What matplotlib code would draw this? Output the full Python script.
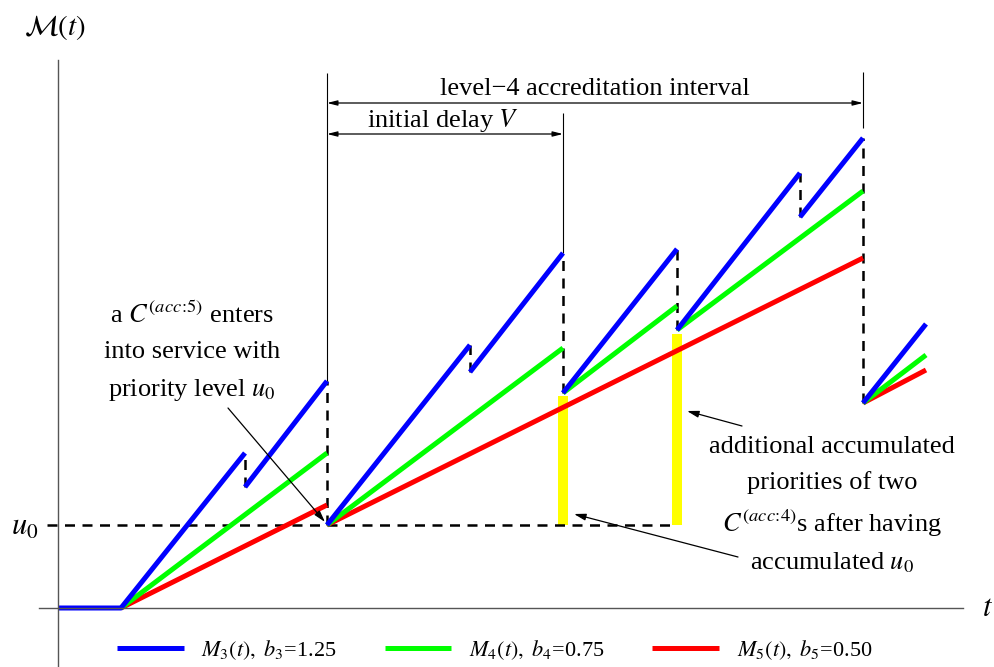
import numpy as np
import matplotlib
matplotlib.use('Agg')
import matplotlib.pyplot as plt
from matplotlib.lines import Line2D

plt.rcParams['font.family'] = ['Liberation Serif', 'DejaVu Serif']
plt.rcParams['mathtext.fontset'] = 'stix'

nan = np.nan
# ---- data (t, M) ----
U0 = 4.15
blue_t = [0, 3.15, 9.35, nan, 9.35, 13.45, nan, 13.45, 20.6, nan, 20.6, 25.25, nan,
          25.25, 30.95, nan, 30.95, 37.1, nan, 37.1, 40.25, nan, 40.25, 43.4]
blue_m = [0, 0, 7.75, nan, 6.05, 11.35, nan, 4.15, 13.15, nan, 11.8, 17.75, nan,
          10.75, 17.95, nan, 13.9, 21.75, nan, 19.55, 23.5, nan, 10.25, 14.2]
green_t = [3.15, 13.45, nan, 13.45, 25.25, nan, 25.25, 30.95, nan, 30.95, 40.25, nan, 40.25, 43.4]
green_m = [0, 7.75, nan, 4.15, 13.0, nan, 10.75, 15.1, nan, 13.9, 20.85, nan, 10.25, 12.65]
red_t = [3.15, 13.45, nan, 13.45, 40.25, nan, 40.25, 43.4]
red_m = [0, 5.15, nan, 4.15, 17.5, nan, 10.25, 11.9]

drop_t = [9.35, 13.45, 20.6, 25.25, 30.95, 37.1, 40.25]
drop_top = [7.75, 11.35, 13.15, 17.75, 17.95, 21.75, 23.5]
drop_bottom = [6.05, 4.15, 11.8, 10.75, 13.9, 19.55, 10.25]

guide_t = [13.45, 25.25, 40.25]
guide_top = [26.75, 24.75, 26.8]
guide_bottom = [11.35, 17.75, 24.0]

bar_t = [25.25, 30.95]
bar_top = [10.6, 13.7]

legend_labels = [r'$M_3(t),\ b_3$=1.25', r'$M_4(t),\ b_4$=0.75', r'$M_5(t),\ b_5$=0.50']
colors = ['#0000ff', '#00ff00', '#ff0000']

fig = plt.figure(figsize=(9.94, 6.67), dpi=100)
ax = fig.add_axes([0, 0, 1, 1])
ax.set_xlim(-2.9, 46.8)
ax.set_ylim(-2.95, 30.4)
ax.set_xticks([]); ax.set_yticks([])
for s in ['top', 'right']:
    ax.spines[s].set_visible(False)
ax.spines['left'].set_position(('data', 0))
ax.spines['bottom'].set_position(('data', 0))
ax.spines['left'].set_bounds(-2.95, 27.4)
ax.spines['bottom'].set_bounds(-0.95, 45.25)
for s in ['left', 'bottom']:
    ax.spines[s].set_color('#555555')
    ax.spines[s].set_linewidth(1.0)
    ax.spines[s].set_zorder(2.5)

LW = 3.6
# yellow bars
ax.bar(bar_t, np.array(bar_top) - U0, bottom=U0, width=0.5, color='#ffff00', zorder=1)
# u0 dashed line
ax.plot([-0.55, bar_t[-1]], [U0, U0], color='black', lw=1.8, dashes=(4, 3), zorder=1.5)
ax.vlines(drop_t, drop_bottom, drop_top, colors='black', lw=1.8, linestyles=(0, (4, 3)), zorder=1.5)
ax.vlines(guide_t, guide_bottom, guide_top, colors='black', lw=0.8, zorder=1.5)

lr, = ax.plot(red_t, red_m, color=colors[2], lw=LW, solid_capstyle='butt', zorder=2)
lg, = ax.plot(green_t, green_m, color=colors[1], lw=LW, solid_capstyle='butt', zorder=2.1)
lb, = ax.plot(blue_t, blue_m, color=colors[0], lw=LW, solid_capstyle='butt', zorder=2.2)

# interval arrows
ax.annotate('', xy=(guide_t[0], 25.25), xytext=(guide_t[2], 25.25),
            arrowprops=dict(arrowstyle='<|-|>,head_length=0.6,head_width=0.15', lw=0.9,
                            color='black', shrinkA=0, shrinkB=0))
ax.annotate('', xy=(guide_t[0], 23.7), xytext=(guide_t[1], 23.7),
            arrowprops=dict(arrowstyle='<|-|>,head_length=0.6,head_width=0.15', lw=0.9,
                            color='black', shrinkA=0, shrinkB=0))
FS = 19
ax.text(26.85, 25.95, 'level\u22124 accreditation interval', ha='center', va='center', fontsize=FS)
ax.text(19.25, 24.4, 'initial delay $V$', ha='center', va='center', fontsize=FS)

ax.text(-0.15, 29.0, r'$\mathcal{M}(t)$', ha='center', va='center', fontsize=21)
ax.text(-1.65, 4.05, r'$u_0$', ha='center', va='center', fontsize=22)
ax.text(46.5, 0.0, r'$t$', ha='center', va='center', fontsize=22)

# annotation 1
for txt, m in zip([r'a $C^{(acc\!:\!5)}$ enters', 'into service with', r'priority level $u_0$'],
                  [14.65, 12.8, 10.9]):
    ax.text(6.7, m, txt, ha='center', va='center', fontsize=FS)
arrow_kw = dict(arrowstyle='-|>,head_length=0.7,head_width=0.2', lw=0.9, color='black',
                shrinkA=0, shrinkB=0)
ax.annotate('', xy=(13.35, 4.3), xytext=(8.5, 10.0), arrowprops=arrow_kw)

# annotation 2
for txt, m in zip(['additional accumulated', 'priorities of two',
                   r'$C^{(acc\!:\!4)}$s after having', r'accumulated $u_0$'],
                  [8.05, 6.25, 4.25, 2.25]):
    ax.text(38.7, m, txt, ha='center', va='center', fontsize=FS)
ax.annotate('', xy=(31.45, 9.85), xytext=(34.2, 9.1), arrowprops=arrow_kw)
ax.annotate('', xy=(25.8, 4.7), xytext=(34.0, 2.55), arrowprops=arrow_kw)

handles = [Line2D([], [], color=c, lw=LW, solid_capstyle='butt') for c in colors]
ax.legend(handles, legend_labels, loc='center left', bbox_to_anchor=(2.95, -2.1),
          bbox_transform=ax.transData, ncol=3, frameon=False, fontsize=16,
          handlelength=3.0, handletextpad=0.8, columnspacing=2.15, borderpad=0,
          borderaxespad=0)

fig.savefig('out.png', dpi=100)
